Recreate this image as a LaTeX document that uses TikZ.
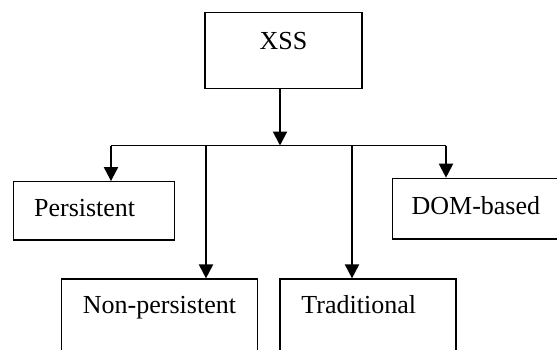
\documentclass[tikz,border=0pt]{standalone}
\usepackage{fontspec}
\setmainfont{Liberation Serif}
\usetikzlibrary{arrows.meta,calc,positioning}

\tikzset{
  box/.style={draw, line width=1.2pt, inner ysep=0pt, inner xsep=0pt,
    font=\fontsize{26}{30}\selectfont},
  link/.style={line width=2pt, -{Triangle[length=14pt,width=14pt]}}
}

\begin{document}
\begin{tikzpicture}[x=1pt,y=1pt]
  \useasboundingbox (0,0) rectangle (557,349);
  \node[box, anchor=base, minimum width=157, text height=36.6, text depth=39] (xss) at (283.5,299.7) {XSS};
  \node[box, anchor=base west, inner xsep=20.5, text width=120, align=left, text height=35, text depth=23.3] (pers) at (13,132.3) {Persistent};
  \node[box, anchor=base west, inner xsep=19, text width=150, align=left, text height=35.7, text depth=25] (dom) at (392,135) {DOM-based};
  \node[box, anchor=base, minimum width=196, text height=34.3, text depth=50] (nonpers) at (159.5,35.7) {Non-persistent};
  \node[box, anchor=base west, inner xsep=21.5, text width=133, align=left, text height=34.3, text depth=50] (trad) at (279.3,35.7) {Traditional};
  % branch points on the bar
  \coordinate (hub) at (280,203.5);
  \coordinate (b1) at (111,203.5);
  \coordinate (b2) at (206,203.5);
  \coordinate (b3) at (352,203.5);
  \coordinate (b4) at (446,203.5);
  \draw[link] (xss.south -| hub) -- (hub);
  \draw[line width=1.6pt] (b1) -- (b4);
  \draw[link] (b1) -- (b1 |- pers.north);
  \draw[link] (b2) -- (b2 |- nonpers.north);
  \draw[link] (b3) -- (b3 |- trad.north);
  \draw[link] (b4) -- (b4 |- dom.north);
\end{tikzpicture}
\end{document}
